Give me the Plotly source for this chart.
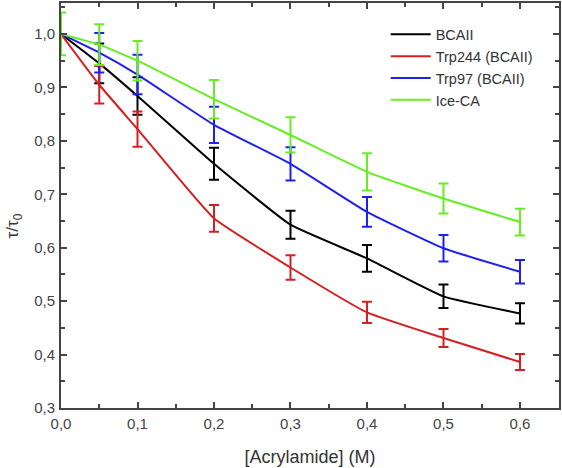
import plotly.graph_objects as go

conc = [0.0, 0.05, 0.1, 0.2, 0.3, 0.4, 0.5, 0.6]

bcaii = [1.0, 0.945, 0.884, 0.757, 0.643, 0.58, 0.509, 0.477]
bcaii_err = [0.0, 0.037, 0.035, 0.030, 0.026, 0.025, 0.022, 0.019]

trp244 = [1.0, 0.905, 0.822, 0.655, 0.563, 0.479, 0.431, 0.386]
trp244_err = [0.0, 0.035, 0.033, 0.025, 0.023, 0.020, 0.017, 0.015]

trp97 = [1.0, 0.965, 0.924, 0.83, 0.757, 0.667, 0.599, 0.555]
trp97_err = [0.0, 0.037, 0.037, 0.034, 0.031, 0.028, 0.025, 0.022]

iceca = [1.0, 0.98, 0.95, 0.878, 0.811, 0.742, 0.692, 0.648]
iceca_err = [0.04, 0.038, 0.037, 0.036, 0.033, 0.035, 0.028, 0.025]

names = ["BCAII", "Trp244 (BCAII)", "Trp97 (BCAII)", "Ice-CA"]
colors = ["#000000", "#d42020", "#2020ee", "#66ee22"]
series = [(bcaii, bcaii_err), (trp244, trp244_err), (trp97, trp97_err), (iceca, iceca_err)]

x_ticks = [0.0, 0.1, 0.2, 0.3, 0.4, 0.5, 0.6]
x_labels = ["0,0", "0,1", "0,2", "0,3", "0,4", "0,5", "0,6"]
y_ticks = [0.3, 0.4, 0.5, 0.6, 0.7, 0.8, 0.9, 1.0]
y_labels = ["0,3", "0,4", "0,5", "0,6", "0,7", "0,8", "0,9", "1,0"]

FONT = "Liberation Sans, Arial"

fig = go.Figure()
for name, color, (vals, errs) in zip(names, colors, series):
    fig.add_trace(go.Scatter(
        x=conc, y=vals, name=name, mode="lines",
        line=dict(color=color, width=2, shape="spline", smoothing=0.4),
        error_y=dict(type="data", array=errs, visible=True, color=color,
                     thickness=2, width=5),
    ))

axis_common = dict(
    showline=True, linecolor="#444444", linewidth=2, mirror="ticks",
    ticks="inside", tickcolor="#444444", tickwidth=2, ticklen=6,
    showgrid=False, zeroline=False, automargin=False,
    tickfont=dict(family=FONT, size=15, color="#444444"),
    minor=dict(ticks="inside", ticklen=4, tickwidth=2, tickcolor="#444444"),
)

fig.update_xaxes(
    range=[0.0, 0.651], tickvals=x_ticks, ticktext=x_labels,
    minor_dtick=0.05, ticklabelstandoff=1,
    title=dict(text="[Acrylamide] (M)", font=dict(family=FONT, size=18, color="#333333"), standoff=19),
    **axis_common,
)
fig.update_yaxes(
    range=[0.3, 1.058], tickvals=y_ticks, ticktext=y_labels,
    minor_dtick=0.05, ticklabelstandoff=1,
    **axis_common,
)

fig.add_annotation(
    text="τ/τ<sub>0</sub>", xref="paper", yref="paper",
    x=-0.095, y=0.45, xanchor="center", yanchor="middle",
    textangle=-90, showarrow=False,
    font=dict(family=FONT, size=17, color="#333333"),
)

fig.update_layout(
    width=562, height=468,
    margin=dict(l=61, r=3, t=3, b=60),
    paper_bgcolor="white", plot_bgcolor="white",
    showlegend=True,
    legend=dict(x=0.652, y=0.962, xanchor="left", yanchor="top",
                bgcolor="rgba(0,0,0,0)", borderwidth=0,
                font=dict(family=FONT, size=14.5, color="#333333"),
                tracegroupgap=0, itemwidth=40),
)

fig.write_html("out.html", config={"displayModeBar": False},
               post_script="document.body.style.margin='0';")
